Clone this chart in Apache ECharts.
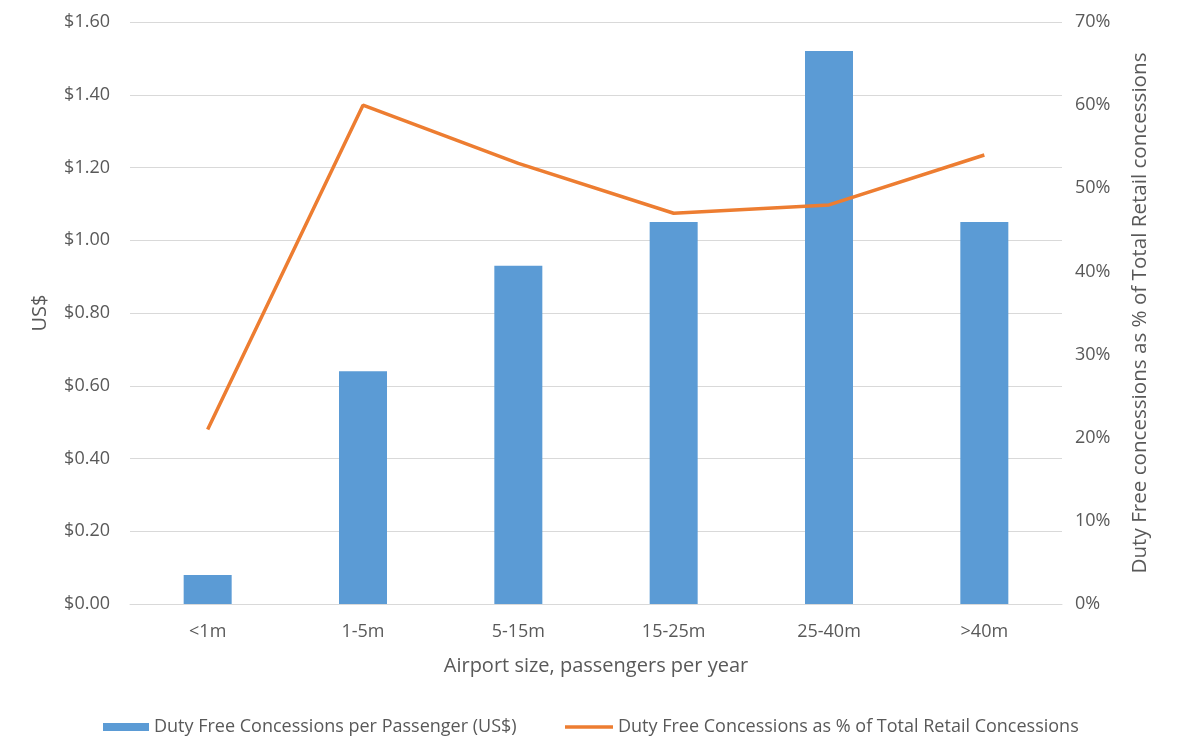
<!DOCTYPE html>
<html><head><meta charset="utf-8">
<script src="https://cdn.jsdelivr.net/npm/echarts@6/dist/echarts.min.js"></script>
<style>html,body{margin:0;padding:0;background:#fff;}#c{width:1183px;height:742px;}</style>
</head><body><div id="c"></div>
<script>
const categories = ['<1m', '1-5m', '5-15m', '15-25m', '25-40m', '>40m'];
const perPassenger = [0.08, 0.64, 0.93, 1.05, 1.52, 1.05];
const shareOfRetail = [21, 60, 53, 47, 48, 54];
const barName = 'Duty Free Concessions per Passenger (US$)';
const lineName = 'Duty Free Concessions as % of Total Retail Concessions';

const FONT = 'Open Sans';
const grey = '#595959';
const chart = echarts.init(document.getElementById('c'), null, {renderer: 'canvas'});
const legendText = {fontFamily: FONT, fontSize: 18, color: grey};
chart.setOption({
  animation: false,
  backgroundColor: '#fff',
  textStyle: {fontFamily: FONT},
  grid: {left: 130, right: 121, top: 22, bottom: 138},
  legend: [{
    left: 103, top: 718, padding: 0, itemWidth: 46, itemHeight: 8, itemGap: 5,
    textStyle: legendText,
    data: [{name: barName, icon: 'rect'}]
  }, {
    left: 565, top: 718, padding: 0, itemWidth: 48, itemHeight: 3.5, itemGap: 5,
    textStyle: legendText,
    data: [{name: lineName, icon: 'rect', itemStyle: {color: '#ED7D31'}}]
  }],
  xAxis: {
    type: 'category', data: categories,
    name: 'Airport size, passengers per year', nameLocation: 'middle', nameGap: 52,
    nameTextStyle: {fontSize: 20, color: grey, fontFamily: FONT},
    axisLine: {lineStyle: {color: '#d9d9d9', width: 1}},
    axisTick: {show: false},
    axisLabel: {fontSize: 18, color: grey, margin: 19, fontFamily: FONT}
  },
  yAxis: [{
    type: 'value', min: 0, max: 1.6, interval: 0.2,
    name: 'US$', nameLocation: 'middle', nameGap: 80, nameRotate: 90,
    nameTextStyle: {fontSize: 20, color: grey, fontFamily: FONT},
    axisLine: {show: false}, axisTick: {show: false},
    axisLabel: {fontSize: 18, color: grey, margin: 20, formatter: v => '$' + v.toFixed(2)},
    splitLine: {lineStyle: {color: '#d9d9d9', width: 1}}
  }, {
    type: 'value', min: 0, max: 70, interval: 10,
    name: 'Duty Free concessions as % of Total Retail concessions', nameLocation: 'middle', nameGap: 68, nameRotate: 90,
    nameTextStyle: {fontSize: 20.6, color: grey, fontFamily: FONT},
    axisLine: {show: false}, axisTick: {show: false},
    axisLabel: {fontSize: 18, color: grey, margin: 13, formatter: v => v + '%'},
    splitLine: {show: false}
  }],
  series: [{
    name: barName, type: 'bar', data: perPassenger, yAxisIndex: 0,
    barWidth: 48, itemStyle: {color: '#5B9BD5'}
  }, {
    name: lineName, type: 'line', data: shareOfRetail, yAxisIndex: 1,
    symbol: 'none', lineStyle: {color: '#ED7D31', width: 3.5}, itemStyle: {color: '#ED7D31'}
  }]
});
</script></body></html>
